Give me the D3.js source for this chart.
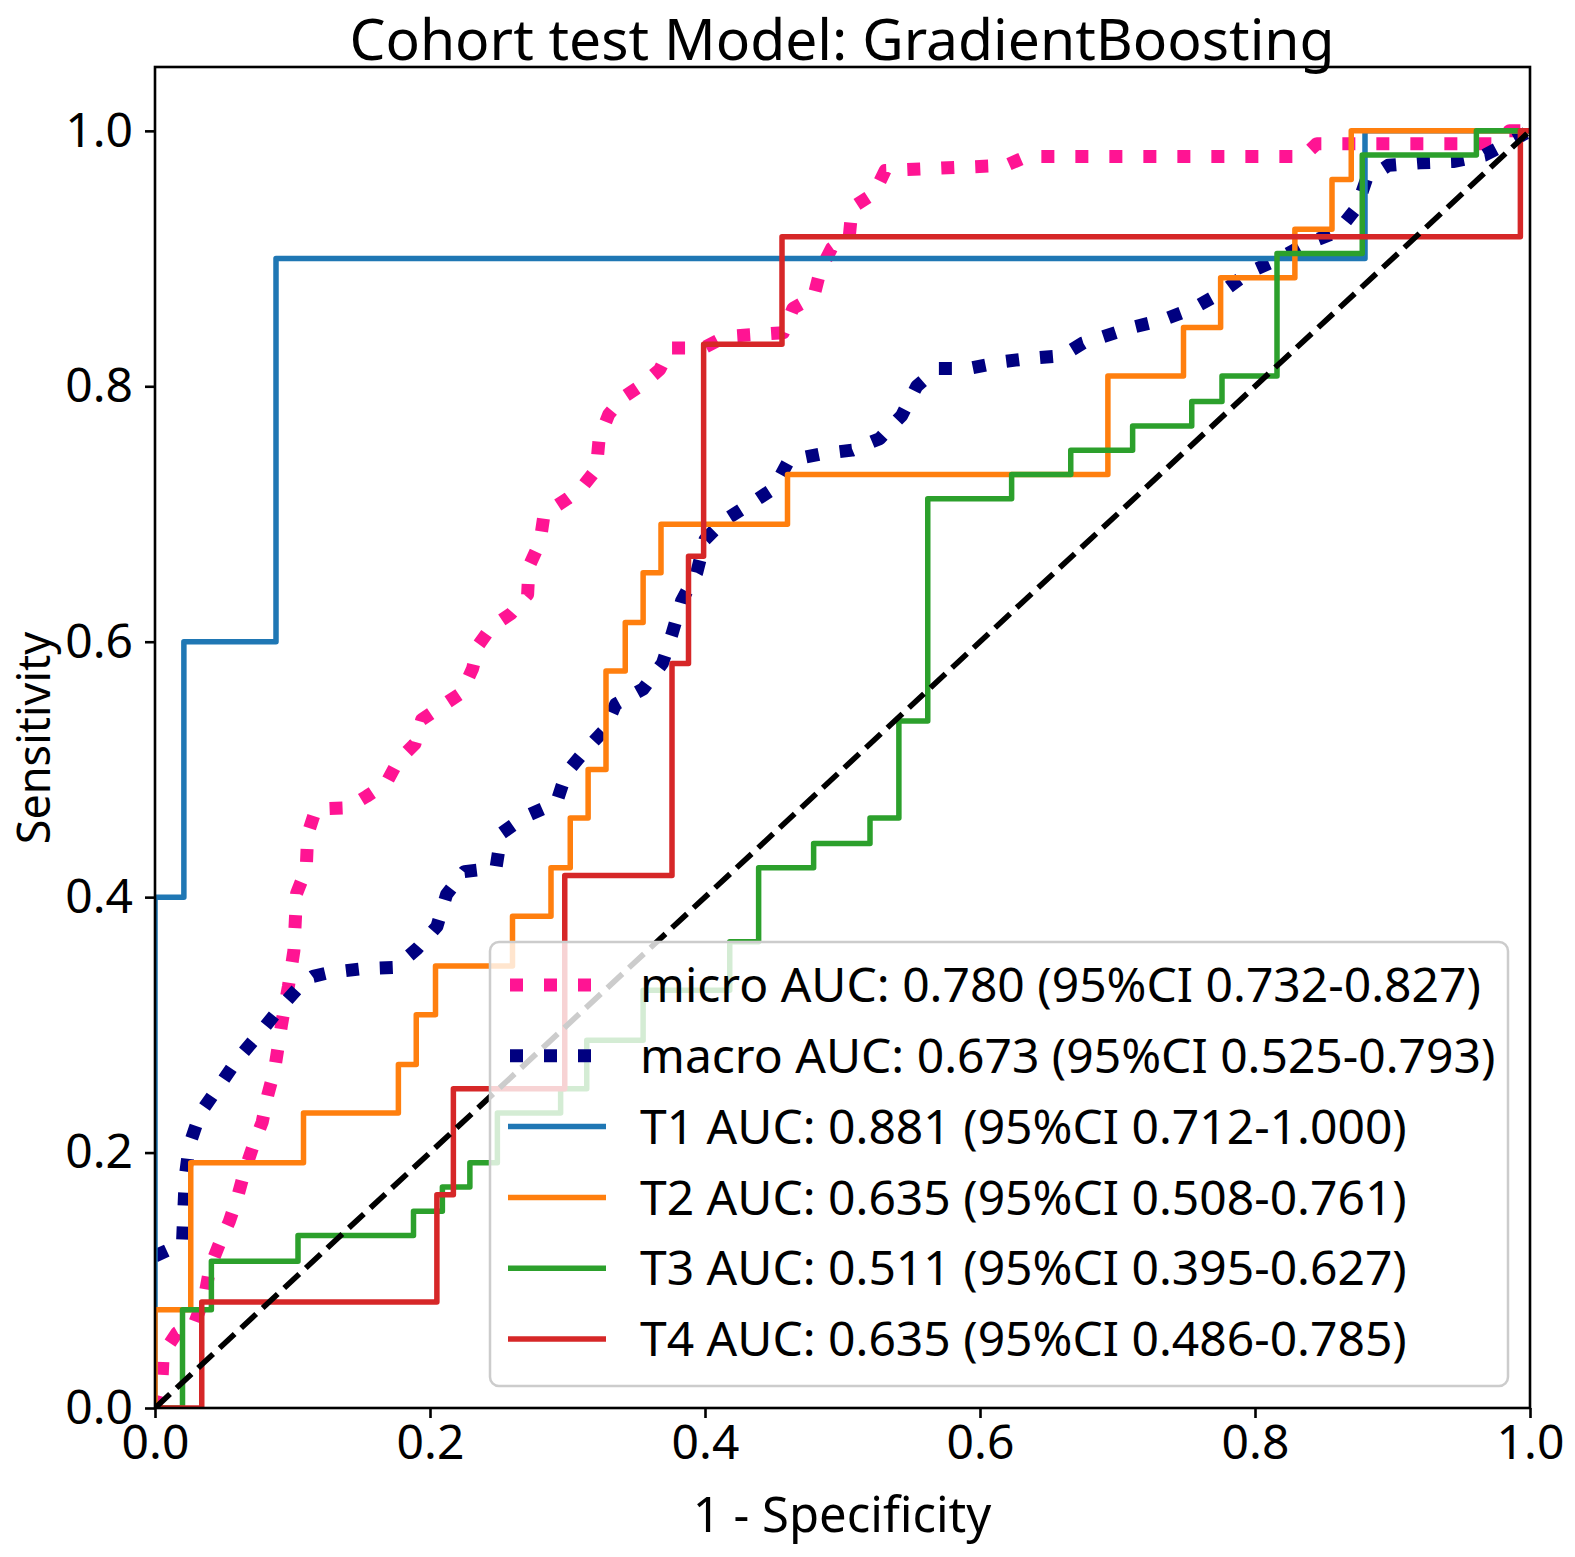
<!DOCTYPE html>
<html>
<head>
<meta charset="utf-8">
<script src="https://cdn.jsdelivr.net/npm/d3@7"></script>
<style>
  body { margin: 0; background: #fff; }
  svg text { font-family: "Noto Sans", "Open Sans", sans-serif; fill: #000; }
</style>
</head>
<body>
<svg id="chart" width="1575" height="1557"></svg>
<script>
// ---- data ----
const title = 'Cohort test Model: GradientBoosting';
const xLabel = '1 - Specificity';
const yLabel = 'Sensitivity';
const tickValues = [0, 0.2, 0.4, 0.6, 0.8, 1.0];

const legendLabels = [
  'micro AUC: 0.780 (95%CI 0.732-0.827)',
  'macro AUC: 0.673 (95%CI 0.525-0.793)',
  'T1 AUC: 0.881 (95%CI 0.712-1.000)',
  'T2 AUC: 0.635 (95%CI 0.508-0.761)',
  'T3 AUC: 0.511 (95%CI 0.395-0.627)',
  'T4 AUC: 0.635 (95%CI 0.486-0.785)'
];

// micro / macro average curves (points joined by straight lines)
const microFpr = [0, 0.005, 0.006, 0.016, 0.029, 0.036, 0.040, 0.047, 0.054, 0.060, 0.065, 0.071, 0.078, 0.082, 0.087,
  0.092, 0.097, 0.101, 0.103, 0.110, 0.111, 0.117, 0.140, 0.154, 0.168, 0.177, 0.189, 0.194, 0.209, 0.223, 0.231,
  0.235, 0.245, 0.259, 0.271, 0.272, 0.280, 0.283, 0.300, 0.310, 0.321, 0.323, 0.330, 0.340, 0.354, 0.367, 0.375,
  0.399, 0.415, 0.457, 0.464, 0.479, 0.484, 0.492, 0.505, 0.507, 0.523, 0.531, 0.619, 0.634, 0.835, 0.845, 0.975,
  0.985, 1];
const microTpr = [0, 0.020, 0.043, 0.059, 0.067, 0.087, 0.110, 0.129, 0.146, 0.165, 0.185, 0.204, 0.224, 0.245, 0.265,
  0.300, 0.330, 0.358, 0.403, 0.422, 0.449, 0.469, 0.470, 0.479, 0.489, 0.507, 0.520, 0.539, 0.550, 0.560, 0.579,
  0.597, 0.612, 0.622, 0.637, 0.659, 0.678, 0.700, 0.712, 0.720, 0.735, 0.759, 0.778, 0.791, 0.801, 0.813, 0.830,
  0.830, 0.839, 0.842, 0.861, 0.870, 0.891, 0.908, 0.918, 0.940, 0.951, 0.969, 0.973, 0.980, 0.980, 0.990, 0.990,
  1.0, 1.0];

const macroFpr = [0, 0.020, 0.021, 0.022, 0.025, 0.033, 0.046, 0.060, 0.075, 0.090, 0.105, 0.115, 0.127, 0.151, 0.175,
  0.191, 0.205, 0.212, 0.225, 0.248, 0.252, 0.269, 0.292, 0.299, 0.313, 0.327, 0.335, 0.355, 0.369, 0.376, 0.383,
  0.394, 0.400, 0.414, 0.433, 0.450, 0.461, 0.484, 0.507, 0.527, 0.543, 0.554, 0.569, 0.592, 0.615, 0.637, 0.660,
  0.675, 0.687, 0.710, 0.733, 0.755, 0.775, 0.795, 0.816, 0.836, 0.860, 0.874, 0.881, 0.897, 0.920, 0.944, 0.967,
  0.988, 1];
const macroTpr = [0.119, 0.129, 0.155, 0.181, 0.206, 0.231, 0.251, 0.273, 0.292, 0.312, 0.330, 0.338, 0.341, 0.344, 0.345,
  0.360, 0.377, 0.402, 0.420, 0.423, 0.450, 0.463, 0.474, 0.497, 0.515, 0.531, 0.551, 0.563, 0.583, 0.606, 0.632,
  0.654, 0.680, 0.695, 0.708, 0.720, 0.742, 0.747, 0.750, 0.759, 0.777, 0.800, 0.814, 0.814, 0.819, 0.822, 0.824,
  0.834, 0.838, 0.846, 0.852, 0.861, 0.873, 0.889, 0.899, 0.911, 0.921, 0.940, 0.962, 0.973, 0.975, 0.976, 0.981,
  0.993, 1.0];

// class curves: each point is where the curve steps up (drawn as a staircase)
const t1Fpr = [0, 0, 0.021, 0.088, 0.880, 1];
const t1Tpr = [0, 0.4, 0.6, 0.9, 1.0, 1.0];

const t2Fpr = [0, 0, 0.026, 0.108, 0.177, 0.190, 0.204, 0.260, 0.288, 0.302, 0.315, 0.328, 0.342, 0.355, 0.368,
  0.460, 0.693, 0.748, 0.775, 0.829, 0.856, 0.870, 1];
const t2Tpr = [0, 0.077, 0.192, 0.231, 0.269, 0.308, 0.346, 0.385, 0.423, 0.462, 0.500, 0.577, 0.615, 0.654, 0.692,
  0.731, 0.808, 0.846, 0.885, 0.923, 0.962, 1.0, 1.0];

const t3Fpr = [0, 0.020, 0.041, 0.104, 0.188, 0.209, 0.229, 0.249, 0.295, 0.314, 0.355, 0.418, 0.439, 0.479, 0.520,
  0.541, 0.562, 0.623, 0.666, 0.711, 0.754, 0.776, 0.816, 0.878, 0.961, 1];
const t3Tpr = [0, 0.077, 0.115, 0.135, 0.154, 0.173, 0.192, 0.231, 0.250, 0.288, 0.327, 0.365, 0.423, 0.442, 0.462,
  0.538, 0.712, 0.731, 0.750, 0.769, 0.788, 0.808, 0.904, 0.981, 1.0, 1.0];

const t4Fpr = [0, 0.034, 0.205, 0.217, 0.298, 0.376, 0.388, 0.399, 0.456, 0.993, 1];
const t4Tpr = [0, 0.083, 0.167, 0.250, 0.417, 0.583, 0.667, 0.833, 0.917, 1.0, 1.0];

// ---- drawing ----
const svg = d3.select('#chart');

let x = d3.scaleLinear().domain([0, 1]).range([155, 1530]);
let y = d3.scaleLinear().domain([0, 1.05]).range([1408, 67]);

const zip = (a, b) => a.map((v, i) => [v, b[i]]);

let series = [
  { pts: zip(microFpr, microTpr), color: '#ff1493', dotted: true, step: false },
  { pts: zip(macroFpr, macroTpr), color: '#000080', dotted: true, step: false },
  { pts: zip(t1Fpr, t1Tpr), color: '#1f77b4', dotted: false, step: true },
  { pts: zip(t2Fpr, t2Tpr), color: '#ff7f0e', dotted: false, step: true },
  { pts: zip(t3Fpr, t3Tpr), color: '#2ca02c', dotted: false, step: true },
  { pts: zip(t4Fpr, t4Tpr), color: '#d62728', dotted: false, step: true }
];

svg.append('defs').append('clipPath').attr('id', 'plotclip')
  .append('rect')
  .attr('x', x(0)).attr('y', y(1.05))
  .attr('width', x(1) - x(0)).attr('height', y(0) - y(1.05));

let plot = svg.append('g').attr('clip-path', 'url(#plotclip)');

series.forEach((s) => {
  let line = d3.line()
    .x((d) => x(d[0]))
    .y((d) => y(d[1]))
    .curve(s.step ? d3.curveStepAfter : d3.curveLinear);
  plot.append('path')
    .attr('d', line(s.pts))
    .attr('fill', 'none')
    .attr('stroke', s.color)
    .attr('stroke-width', s.dotted ? 13 : 5.5)
    .attr('stroke-dasharray', s.dotted ? '13 21' : null)
    .attr('stroke-linecap', s.dotted ? 'butt' : 'square')
    .attr('stroke-linejoin', 'round');
});

// chance line
plot.append('line')
  .attr('x1', x(0)).attr('y1', y(0))
  .attr('x2', x(1)).attr('y2', y(1))
  .attr('stroke', '#000')
  .attr('stroke-width', 5.6)
  .attr('stroke-dasharray', '20.5 8.9');

// frame
svg.append('rect')
  .attr('x', x(0)).attr('y', y(1.05))
  .attr('width', x(1) - x(0)).attr('height', y(0) - y(1.05))
  .attr('fill', 'none')
  .attr('stroke', '#000')
  .attr('stroke-width', 2.6);

// axes
let xAxis = svg.append('g')
  .attr('transform', `translate(0,${y(0)})`)
  .call(d3.axisBottom(x).tickValues(tickValues).tickFormat(d3.format('.1f')).tickSize(10).tickPadding(7));
let yAxis = svg.append('g')
  .attr('transform', `translate(${x(0)},0)`)
  .call(d3.axisLeft(y).tickValues(tickValues).tickFormat(d3.format('.1f')).tickSize(10).tickPadding(12));

[xAxis, yAxis].forEach((ax) => {
  ax.select('.domain').remove();
  ax.selectAll('.tick line').attr('stroke', '#000').attr('stroke-width', 2.6);
  ax.selectAll('.tick text')
    .attr('font-size', 48)
    .attr('font-family', '"Noto Sans", sans-serif')
    .attr('fill', '#000');
});

// titles
svg.append('text')
  .attr('x', 842).attr('y', 60)
  .attr('text-anchor', 'middle')
  .attr('font-size', 57)
  .text(title);

svg.append('text')
  .attr('x', 842).attr('y', 1532)
  .attr('text-anchor', 'middle')
  .attr('font-size', 49)
  .text(xLabel);

svg.append('text')
  .attr('transform', 'translate(50,738) rotate(-90)')
  .attr('text-anchor', 'middle')
  .attr('font-size', 45)
  .text(yLabel);

// legend
let legend = svg.append('g');
legend.append('rect')
  .attr('x', 490).attr('y', 942)
  .attr('width', 1018).attr('height', 444)
  .attr('rx', 9)
  .attr('fill', '#fff').attr('fill-opacity', 0.8)
  .attr('stroke', '#cccccc').attr('stroke-width', 2.5);

series.forEach((s, i) => {
  let rowY = 985 + i * 70.8;
  legend.append('line')
    .attr('x1', s.dotted ? 510 : 508).attr('x2', 606)
    .attr('y1', rowY).attr('y2', rowY)
    .attr('stroke', s.color)
    .attr('stroke-width', s.dotted ? 13 : 5.5)
    .attr('stroke-dasharray', s.dotted ? '13 21' : null)
    .attr('stroke-linecap', 'butt');
  legend.append('text')
    .attr('x', 640).attr('y', rowY)
    .attr('dy', '0.36em')
    .attr('font-size', 48)
    .text(legendLabels[i]);
});
</script>
</body>
</html>
